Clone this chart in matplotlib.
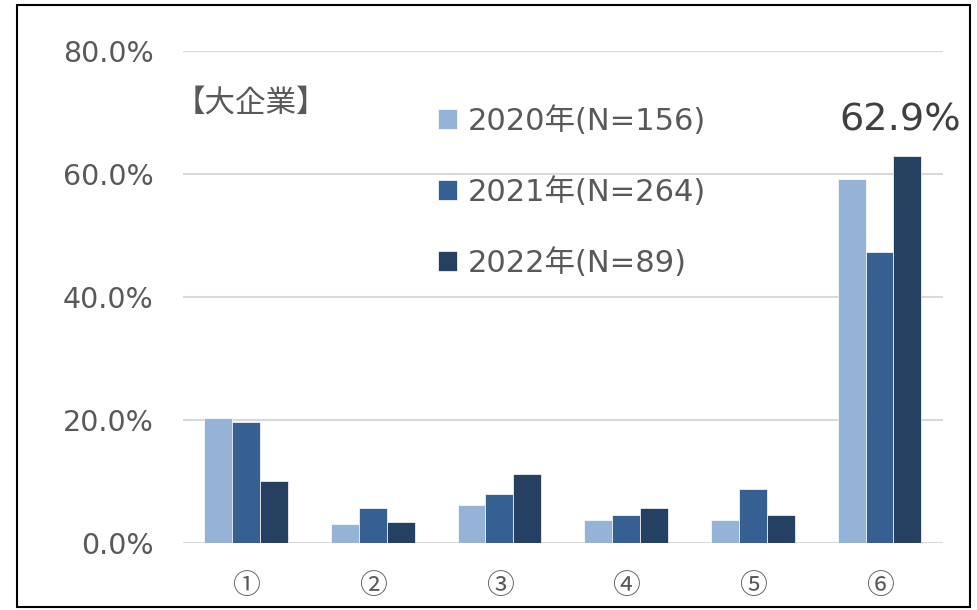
import numpy as np
import matplotlib
matplotlib.use('Agg')
import matplotlib.pyplot as plt
from matplotlib.patches import Rectangle
from matplotlib.ticker import FuncFormatter

plt.rcParams['font.family'] = ['DejaVu Sans', 'Noto Sans CJK JP']

# data
categories = ['①', '②', '③', '④', '⑤', '⑥']
series_names = ['2020年(N=156)', '2021年(N=264)', '2022年(N=89)']
v2020 = [20.3, 3.1, 6.2, 3.7, 3.7, 59.2]
v2021 = [19.7, 5.7, 8.0, 4.5, 8.7, 47.3]
v2022 = [10.1, 3.4, 11.2, 5.6, 4.5, 62.9]

colors = ['#95B3D7', '#376092', '#254061']
gray = '#595959'

fig = plt.figure(figsize=(9.77, 6.10), dpi=100)
ax = fig.add_axes([0.187, 0.110, 0.778, 0.806])

x = np.arange(len(categories))
w = 0.22
for i, vals in enumerate([v2020, v2021, v2022]):
    ax.bar(x + (i - 1) * w, vals, width=w, color=colors[i], label=series_names[i],
           edgecolor='white', linewidth=0.5, zorder=3)

ax.set_xlim(-0.5, 5.5)
ax.set_ylim(0, 80)
ax.set_yticks([0, 20, 40, 60, 80])
ax.yaxis.set_major_formatter(FuncFormatter(lambda v, p: f'{v:.1f}%'))
ax.set_xticks(x)
ax.set_xticklabels(categories, family=['Noto Sans CJK JP'], fontsize=20)
ax.grid(axis='y', color='#D9D9D9', linewidth=1.5, zorder=0)
for s in ax.spines.values():
    s.set_visible(False)
ax.tick_params(axis='both', length=0, colors=gray)
ax.tick_params(axis='y', pad=21, labelsize=20.5)
ax.tick_params(axis='x', pad=20)

# label on the highest bar
ax.annotate(f'{v2022[5]:.1f}%', xy=(5 + w, v2022[5]), xytext=(-5, 13),
            textcoords='offset points', ha='center', va='bottom',
            fontsize=27.5, color='#404040')

ax.text(-0.01, 0.895, '【大企業】', transform=ax.transAxes, fontsize=22,
        color=gray, ha='left', va='center')

ax.legend(loc='upper left', bbox_to_anchor=(0.30, 0.945), frameon=False,
          fontsize=22, labelcolor=gray, handlelength=0.6, handleheight=0.6,
          handletextpad=0.35, labelspacing=1.35)

fig.patches.append(Rectangle((17 / 977, 3 / 610), 953 / 977, 602 / 610,
                             transform=fig.transFigure, fill=False,
                             edgecolor='black', linewidth=1.5))

fig.savefig('out.png', dpi=100)
